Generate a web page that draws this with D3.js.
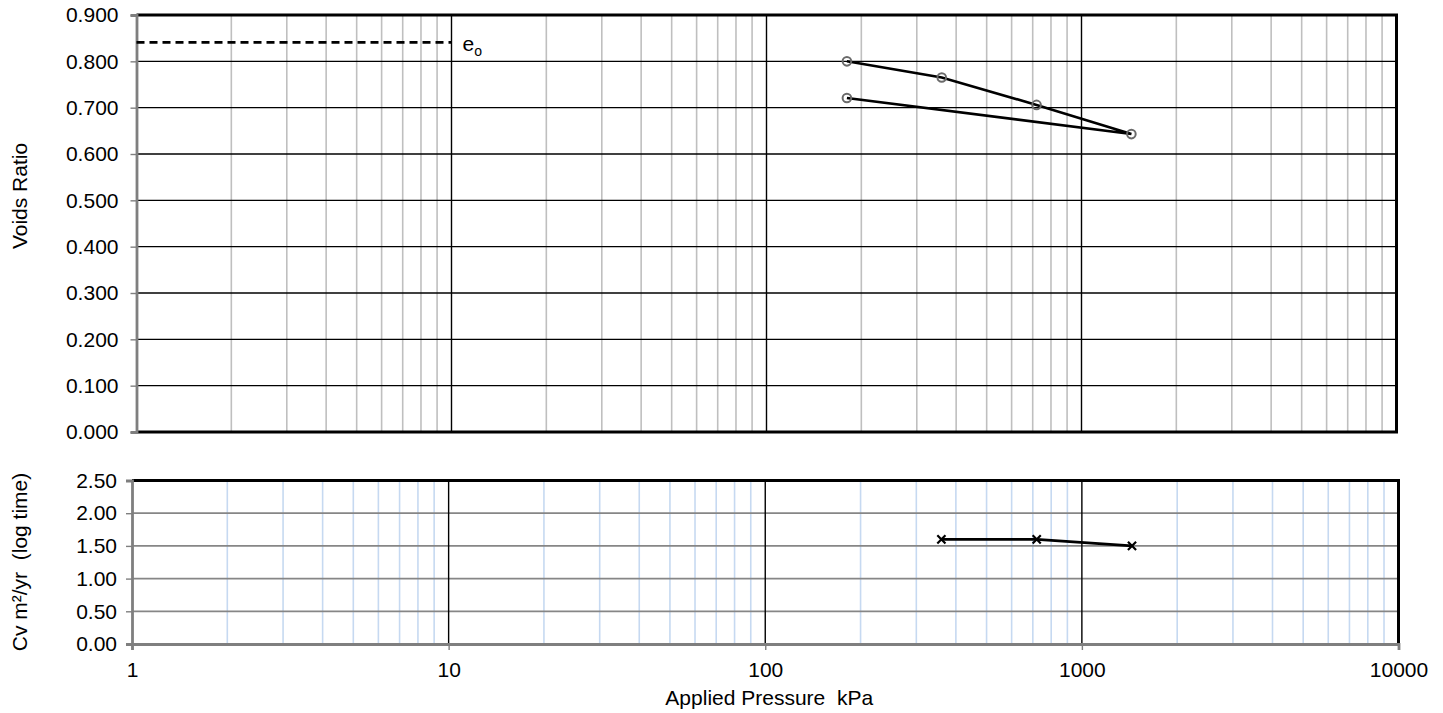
<!DOCTYPE html>
<html>
<head>
<meta charset="utf-8">
<script src="https://cdn.jsdelivr.net/npm/d3@7"></script>
<style>
  html, body { margin: 0; padding: 0; background: #fff; }
  svg { display: block; font-family: "Liberation Sans", Arial, sans-serif; }
  text { white-space: pre; }
</style>
</head>
<body>
<svg id="chart" width="1443" height="713"></svg>
<script>
// Oedometer test: voids ratio and coefficient of consolidation vs applied pressure
const pressure = [180, 360, 720, 1440, 180];
const voidsRatio = [0.800, 0.765, 0.706, 0.643, 0.721];
const cvPressure = [360, 720, 1440];
const cvValues = [1.60, 1.60, 1.50];
const initialVoids = 0.841;

const xTicks = [1, 10, 100, 1000, 10000];
const voidsTicks = [0, 0.1, 0.2, 0.3, 0.4, 0.5, 0.6, 0.7, 0.8, 0.9];
const cvTicks = [0, 0.5, 1.0, 1.5, 2.0, 2.5];

const FONT = 21;
const svg = d3.select("#chart");

// minor positions 2..9 in every decade
const minorX = [];
for (let d = 1; d < 10000; d *= 10) for (let k = 2; k <= 9; k++) minorX.push(d * k);

// ---------- upper panel ----------
const upper = { left: 136.5, right: 1396.5, top: 15, bottom: 432 };
const xTop = d3.scaleLog().domain([1, 10000]).range([upper.left, upper.right]);
const yTop = d3.scaleLinear().domain([0, 0.9]).range([upper.bottom, upper.top]);

const gTop = svg.append("g");
gTop.selectAll("line.minor").data(minorX).join("line")
  .attr("x1", d => xTop(d)).attr("x2", d => xTop(d))
  .attr("y1", upper.top).attr("y2", upper.bottom)
  .attr("stroke", "#bfbfbf").attr("stroke-width", 1.6);
gTop.selectAll("line.major").data(xTicks.slice(1, -1)).join("line")
  .attr("x1", d => xTop(d)).attr("x2", d => xTop(d))
  .attr("y1", upper.top).attr("y2", upper.bottom)
  .attr("stroke", "#000").attr("stroke-width", 1.4);
gTop.selectAll("line.hgrid").data(voidsTicks.slice(1, -1)).join("line")
  .attr("x1", upper.left).attr("x2", upper.right)
  .attr("y1", d => yTop(d)).attr("y2", d => yTop(d))
  .attr("stroke", "#000").attr("stroke-width", 1.4);

// frame
gTop.append("line").attr("x1", upper.left).attr("x2", upper.right + 1.5)
  .attr("y1", upper.top).attr("y2", upper.top).attr("stroke", "#000").attr("stroke-width", 3);
gTop.append("line").attr("x1", upper.left).attr("x2", upper.right + 1.5)
  .attr("y1", upper.bottom).attr("y2", upper.bottom).attr("stroke", "#000").attr("stroke-width", 3);
gTop.append("line").attr("x1", upper.right).attr("x2", upper.right)
  .attr("y1", upper.top).attr("y2", upper.bottom).attr("stroke", "#000").attr("stroke-width", 3);

// left axis
const axTop = gTop.append("g").attr("transform", `translate(${upper.left},0)`)
  .call(d3.axisLeft(yTop).tickValues(voidsTicks).tickFormat(d3.format(".3f")).tickSize(6).tickPadding(12));
axTop.select(".domain").attr("stroke", "#7f7f7f").attr("stroke-width", 2.8);
axTop.selectAll(".tick line").attr("stroke", "#7f7f7f").attr("stroke-width", 1.4);
axTop.selectAll(".tick text").attr("font-size", FONT).attr("fill", "#000")
  .attr("font-family", "Liberation Sans, Arial, sans-serif");

// initial voids ratio
gTop.append("line")
  .attr("x1", xTop(1)).attr("x2", xTop(10))
  .attr("y1", yTop(initialVoids)).attr("y2", yTop(initialVoids))
  .attr("stroke", "#000").attr("stroke-width", 2.8).attr("stroke-dasharray", "8,5");
const eLabel = gTop.append("text")
  .attr("x", xTop(10) + 11).attr("y", yTop(initialVoids) + 9)
  .attr("font-size", FONT).attr("fill", "#000");
eLabel.append("tspan").text("e");
eLabel.append("tspan").attr("font-size", 14).attr("dy", 5).text("o");

// compression curve
const lineTop = d3.line().x(d => xTop(d[0])).y(d => yTop(d[1]));
const ptsTop = pressure.map((p, i) => [p, voidsRatio[i]]);
gTop.append("path").datum(ptsTop).attr("d", lineTop)
  .attr("fill", "none").attr("stroke", "#000").attr("stroke-width", 2.6);
gTop.selectAll("circle.pt").data(ptsTop).join("circle")
  .attr("cx", d => xTop(d[0])).attr("cy", d => yTop(d[1])).attr("r", 4.3)
  .attr("fill", "none").attr("stroke", "#6a6a6a").attr("stroke-width", 2);

gTop.append("text")
  .attr("transform", `translate(27,196) rotate(-90)`)
  .attr("text-anchor", "middle").attr("font-size", FONT).attr("fill", "#000")
  .text("Voids Ratio");

// ---------- lower panel ----------
const lower = { left: 132, right: 1398.5, top: 480.5, bottom: 644 };
const xBot = d3.scaleLog().domain([1, 10000]).range([lower.left, lower.right]);
const yBot = d3.scaleLinear().domain([0, 2.5]).range([lower.bottom, lower.top]);

const gBot = svg.append("g");
gBot.selectAll("line.minor").data(minorX).join("line")
  .attr("x1", d => xBot(d)).attr("x2", d => xBot(d))
  .attr("y1", lower.top).attr("y2", lower.bottom)
  .attr("stroke", "#c6d9f1").attr("stroke-width", 1.6);
gBot.selectAll("line.hgrid").data(cvTicks.slice(1, -1)).join("line")
  .attr("x1", lower.left).attr("x2", lower.right)
  .attr("y1", d => yBot(d)).attr("y2", d => yBot(d))
  .attr("stroke", "#868686").attr("stroke-width", 1.8);
gBot.selectAll("line.major").data(xTicks.slice(1, -1)).join("line")
  .attr("x1", d => xBot(d)).attr("x2", d => xBot(d))
  .attr("y1", lower.top).attr("y2", lower.bottom)
  .attr("stroke", "#000").attr("stroke-width", 1.4);

gBot.append("line").attr("x1", lower.left).attr("x2", lower.right + 1.5)
  .attr("y1", lower.top).attr("y2", lower.top).attr("stroke", "#000").attr("stroke-width", 3);
gBot.append("line").attr("x1", lower.right).attr("x2", lower.right)
  .attr("y1", lower.top).attr("y2", lower.bottom).attr("stroke", "#000").attr("stroke-width", 3);

const axBotY = gBot.append("g").attr("transform", `translate(${lower.left},0)`)
  .call(d3.axisLeft(yBot).tickValues(cvTicks).tickFormat(d3.format(".2f")).tickSize(6).tickPadding(9));
axBotY.select(".domain").attr("stroke", "#7f7f7f").attr("stroke-width", 2.8);
axBotY.selectAll(".tick line").attr("stroke", "#7f7f7f").attr("stroke-width", 1.4);
axBotY.selectAll(".tick text").attr("font-size", FONT).attr("fill", "#000")
  .attr("font-family", "Liberation Sans, Arial, sans-serif");

const axBotX = gBot.append("g").attr("transform", `translate(0,${lower.bottom})`)
  .call(d3.axisBottom(xBot).tickValues(xTicks).tickFormat(d3.format("d")).tickSize(6).tickPadding(12));
axBotX.select(".domain").attr("stroke", "#7f7f7f").attr("stroke-width", 2.8);
axBotX.selectAll(".tick line").attr("stroke", "#7f7f7f").attr("stroke-width", 1.4);
axBotX.selectAll(".tick text").attr("font-size", FONT).attr("fill", "#000")
  .attr("font-family", "Liberation Sans, Arial, sans-serif");

// coefficient of consolidation
const ptsBot = cvPressure.map((p, i) => [p, cvValues[i]]);
gBot.append("path").datum(ptsBot)
  .attr("d", d3.line().x(d => xBot(d[0])).y(d => yBot(d[1])))
  .attr("fill", "none").attr("stroke", "#000").attr("stroke-width", 2.6);
const cross = d3.symbol().type(d3.symbolX).size(45);
gBot.selectAll("path.pt").data(ptsBot).join("path")
  .attr("transform", d => `translate(${xBot(d[0])},${yBot(d[1])})`)
  .attr("d", cross).attr("fill", "none").attr("stroke", "#000").attr("stroke-width", 2.2);

gBot.append("text")
  .attr("transform", `translate(27,562) rotate(-90)`)
  .attr("text-anchor", "middle").attr("font-size", FONT).attr("fill", "#000")
  .text("Cv m²/yr  (log time)");

svg.append("text")
  .attr("x", (lower.left + lower.right) / 2 + 4).attr("y", 705)
  .attr("text-anchor", "middle").attr("font-size", FONT).attr("fill", "#000")
  .text("Applied Pressure  kPa");
</script>
</body>
</html>
